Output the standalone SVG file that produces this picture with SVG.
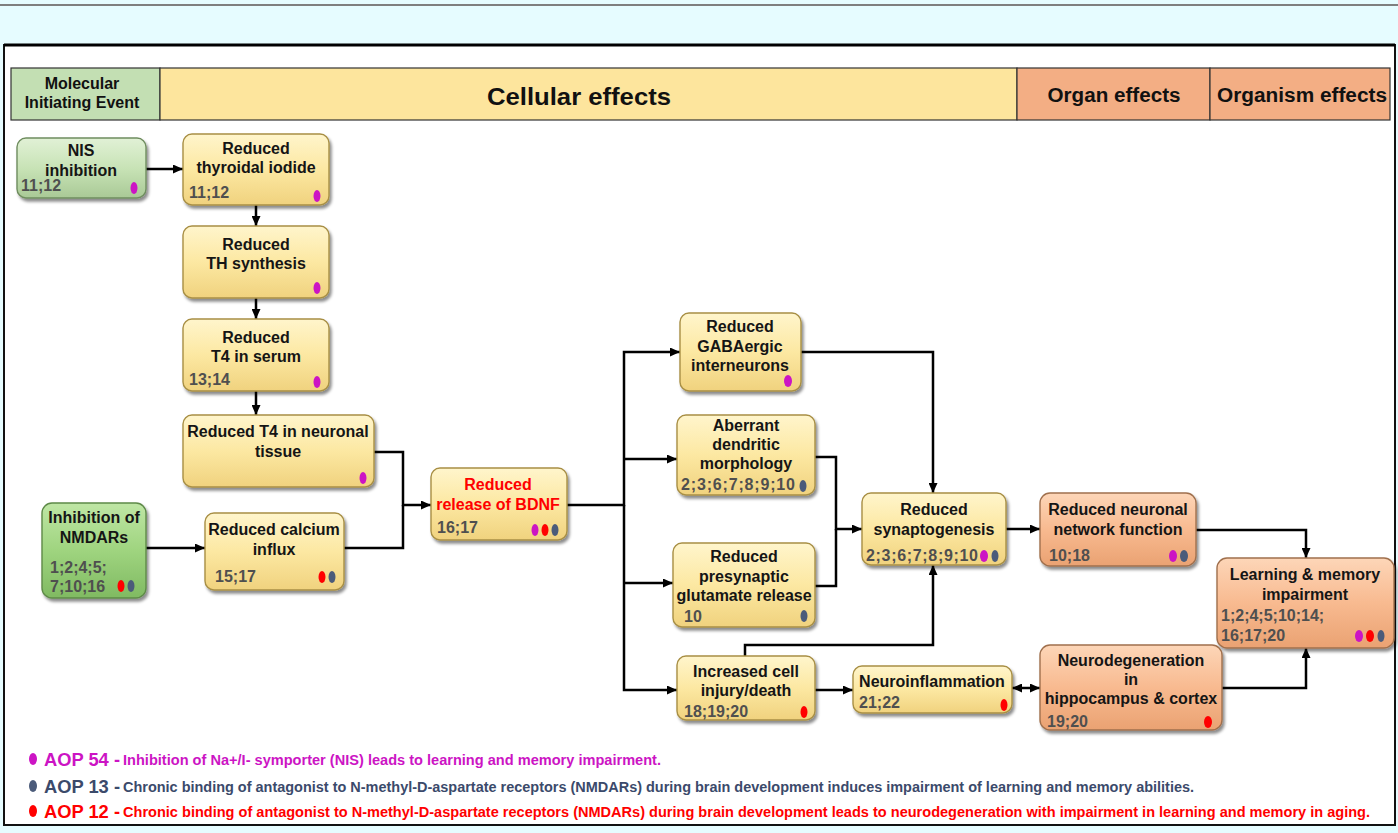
<svg xmlns="http://www.w3.org/2000/svg" width="1398" height="833" viewBox="0 0 1398 833">
  <defs>
    <style>
      .t { font-family: "Liberation Sans", Arial, sans-serif; font-weight: bold; font-size: 16px; fill: #151515; text-anchor: middle; }
      .tr { fill: #ff0000; }
      .n { font-family: "Liberation Sans", Arial, sans-serif; font-weight: bold; font-size: 16px; fill: #4f4f4f; }
      .h { font-family: "Liberation Sans", Arial, sans-serif; font-weight: bold; fill: #111111; text-anchor: middle; }
      .edge { fill: none; stroke: #000000; stroke-width: 2.5; }
      .yel { fill: url(#gYel); stroke: #a88f45; stroke-width: 1.4; filter: url(#shadow); }
      .org { fill: url(#gOrg); stroke: #a0704d; stroke-width: 1.4; filter: url(#shadow); }
      .grn { fill: url(#gGrn); stroke: #6f8d5f; stroke-width: 1.4; filter: url(#shadow); }
      .grn2 { fill: url(#gGrn2); stroke: #5e8a48; stroke-width: 1.4; filter: url(#shadow); }
      .dm { fill: #cc14c4; }
      .db { fill: #4b5b7a; }
      .dr { fill: #ff0000; }
      .lg { font-family: "Liberation Sans Narrow", "Liberation Sans", Arial, sans-serif; font-size: 14.5px; font-weight: bold; }
      .la { font-family: "Liberation Sans", Arial, sans-serif; font-size: 18px; font-weight: bold; }
    </style>
    <linearGradient id="gYel" x1="0" y1="0" x2="0" y2="1">
      <stop offset="0" stop-color="#fff5cc"/>
      <stop offset="0.5" stop-color="#fce8a2"/>
      <stop offset="1" stop-color="#f0d27e"/>
    </linearGradient>
    <linearGradient id="gOrg" x1="0" y1="0" x2="0" y2="1">
      <stop offset="0" stop-color="#fdd6b8"/>
      <stop offset="0.5" stop-color="#f8ba90"/>
      <stop offset="1" stop-color="#eaa272"/>
    </linearGradient>
    <linearGradient id="gGrn" x1="0" y1="0" x2="0" y2="1">
      <stop offset="0" stop-color="#e1f1d6"/>
      <stop offset="0.5" stop-color="#c8e3b6"/>
      <stop offset="1" stop-color="#a9c996"/>
    </linearGradient>
    <linearGradient id="gGrn2" x1="0" y1="0" x2="0" y2="1">
      <stop offset="0" stop-color="#bfe6a5"/>
      <stop offset="0.5" stop-color="#9fd47f"/>
      <stop offset="1" stop-color="#80ba62"/>
    </linearGradient>
    <filter id="shadow" x="-10%" y="-10%" width="125%" height="130%">
      <feDropShadow dx="2" dy="3" stdDeviation="1.6" flood-color="#000000" flood-opacity="0.45"/>
    </filter>
    <marker id="arr" markerUnits="userSpaceOnUse" markerWidth="10" markerHeight="9" refX="10" refY="4.5" orient="auto-start-reverse">
      <path d="M0,0 L10,4.5 L0,9 z" fill="#000000"/>
    </marker>
  </defs>

  <!-- page background and frame -->
  <rect x="0" y="0" width="1398" height="833" fill="#e6fcff"/>
  <line x1="0" y1="5" x2="1398" y2="5" stroke="#7f7f7f" stroke-width="2"/>
  <rect x="4" y="45" width="1391" height="780" fill="#ffffff" stroke="#111111" stroke-width="2"/>
  <line x1="4" y1="45" x2="1395" y2="45" stroke="#000000" stroke-width="3"/>

  <!-- level header -->
  <g id="header">
    <rect x="11" y="68" width="149" height="52" fill="#c3dfb3" stroke="#333333" stroke-width="1.2"/>
    <rect x="160" y="68" width="857" height="52" fill="#fde59d" stroke="#333333" stroke-width="1.2"/>
    <rect x="1017" y="68" width="193" height="52" fill="#f3ae84" stroke="#333333" stroke-width="1.2"/>
    <rect x="1210" y="68" width="180" height="52" fill="#f3ae84" stroke="#333333" stroke-width="1.2"/>
    <text class="h" x="82" y="89" font-size="16">Molecular</text>
    <text class="h" x="82" y="108" font-size="16">Initiating Event</text>
    <text class="h" x="579" y="105" font-size="24" textLength="184" lengthAdjust="spacingAndGlyphs">Cellular effects</text>
    <text class="h" x="1114" y="102" font-size="20" textLength="133" lengthAdjust="spacingAndGlyphs">Organ effects</text>
    <text class="h" x="1302" y="102" font-size="20" textLength="170" lengthAdjust="spacingAndGlyphs">Organism effects</text>
  </g>

  <!-- connectors -->
  <g id="connectors">
    <path class="edge" d="M146,169 H183" marker-end="url(#arr)"/>
    <path class="edge" d="M256,205 V226" marker-end="url(#arr)"/>
    <path class="edge" d="M256,298 V319" marker-end="url(#arr)"/>
    <path class="edge" d="M256,391 V415" marker-end="url(#arr)"/>
    <path class="edge" d="M374,452 H403 V505 H431" marker-end="url(#arr)"/>
    <path class="edge" d="M344,548 H403 V505"/>
    <path class="edge" d="M146,548 H205" marker-end="url(#arr)"/>
    <path class="edge" d="M567,505 H624 V352 H680" marker-end="url(#arr)"/>
    <path class="edge" d="M624,505 V690 H677" marker-end="url(#arr)"/>
    <path class="edge" d="M624,459 H677" marker-end="url(#arr)"/>
    <path class="edge" d="M624,583 H673" marker-end="url(#arr)"/>
    <path class="edge" d="M801,352 H933 V493" marker-end="url(#arr)"/>
    <path class="edge" d="M815,457 H836 V529 H862" marker-end="url(#arr)"/>
    <path class="edge" d="M815,586 H836 V529"/>
    <path class="edge" d="M745,656 V645 H933 V565" marker-end="url(#arr)"/>
    <path class="edge" d="M815,690 H853" marker-end="url(#arr)"/>
    <path class="edge" d="M1012,688 H1040" marker-start="url(#arr)" marker-end="url(#arr)"/>
    <path class="edge" d="M1006,529 H1040" marker-end="url(#arr)"/>
    <path class="edge" d="M1196,530 H1306 V558" marker-end="url(#arr)"/>
    <path class="edge" d="M1222,688 H1306 V648" marker-end="url(#arr)"/>
  </g>

  <!-- events -->
  <g id="nis-inhibition">
    <rect class="grn" x="17" y="138" width="129" height="60" rx="9"/>
    <text class="t" x="81" y="156">NIS</text>
    <text class="t" x="81" y="176">inhibition</text>
    <text class="n" x="21" y="191">11;12</text>
    <ellipse class="dm" cx="134" cy="188" rx="3.5" ry="6"/>
  </g>

  <g id="thyroidal-iodide">
    <rect class="yel" x="183" y="134" width="146" height="71" rx="9"/>
    <text class="t" x="256" y="154">Reduced</text>
    <text class="t" x="256" y="173">thyroidal iodide</text>
    <text class="n" x="189" y="198">11;12</text>
    <ellipse class="dm" cx="317" cy="196" rx="3.5" ry="6"/>
  </g>

  <g id="th-synthesis">
    <rect class="yel" x="183" y="226" width="146" height="72" rx="9"/>
    <text class="t" x="256" y="250">Reduced</text>
    <text class="t" x="256" y="269">TH synthesis</text>
    <ellipse class="dm" cx="317" cy="288" rx="3.5" ry="6"/>
  </g>

  <g id="t4-serum">
    <rect class="yel" x="183" y="319" width="146" height="72" rx="9"/>
    <text class="t" x="256" y="343">Reduced</text>
    <text class="t" x="256" y="362">T4 in serum</text>
    <text class="n" x="189" y="385">13;14</text>
    <ellipse class="dm" cx="317" cy="382" rx="3.5" ry="6"/>
  </g>

  <g id="t4-neuronal">
    <rect class="yel" x="183" y="415" width="191" height="72" rx="9"/>
    <text class="t" x="278" y="437">Reduced T4 in neuronal</text>
    <text class="t" x="278" y="457">tissue</text>
    <ellipse class="dm" cx="363" cy="478" rx="3.5" ry="6"/>
  </g>

  <g id="nmdar-inhibition">
    <rect class="grn2" x="42" y="503" width="104" height="95" rx="10"/>
    <text class="t" x="94" y="523">Inhibition of</text>
    <text class="t" x="94" y="543">NMDARs</text>
    <text class="n" x="50" y="573">1;2;4;5;</text>
    <text class="n" x="50" y="592">7;10;16</text>
    <ellipse class="dr" cx="121" cy="586" rx="3.5" ry="6"/>
    <ellipse class="db" cx="131" cy="586" rx="3.5" ry="6"/>
  </g>

  <g id="calcium-influx">
    <rect class="yel" x="205" y="513" width="139" height="77" rx="9"/>
    <text class="t" x="274" y="535">Reduced calcium</text>
    <text class="t" x="274" y="555">influx</text>
    <text class="n" x="215" y="582">15;17</text>
    <ellipse class="dr" cx="322" cy="577" rx="3.5" ry="6"/>
    <ellipse class="db" cx="332" cy="577" rx="3.5" ry="6"/>
  </g>

  <g id="bdnf-release">
    <rect class="yel" x="431" y="468" width="136" height="72" rx="9"/>
    <text class="t tr" x="498" y="490">Reduced</text>
    <text class="t tr" x="498" y="510">release of BDNF</text>
    <text class="n" x="437" y="533">16;17</text>
    <ellipse class="dm" cx="535" cy="530" rx="3.5" ry="6"/>
    <ellipse class="dr" cx="545" cy="530" rx="3.5" ry="6"/>
    <ellipse class="db" cx="555" cy="530" rx="3.5" ry="6"/>
  </g>

  <g id="gabaergic-interneurons">
    <rect class="yel" x="680" y="313" width="121" height="78" rx="9"/>
    <text class="t" x="740" y="332">Reduced</text>
    <text class="t" x="740" y="352">GABAergic</text>
    <text class="t" x="740" y="371">interneurons</text>
    <ellipse class="dm" cx="788" cy="381" rx="4" ry="6"/>
  </g>

  <g id="dendritic-morphology">
    <rect class="yel" x="677" y="415" width="138" height="80" rx="9"/>
    <text class="t" x="746" y="431">Aberrant</text>
    <text class="t" x="746" y="450">dendritic</text>
    <text class="t" x="746" y="469">morphology</text>
    <text class="n" x="681" y="490" textLength="114" lengthAdjust="spacing">2;3;6;7;8;9;10</text>
    <ellipse class="db" cx="803" cy="486" rx="3.5" ry="6"/>
  </g>

  <g id="glutamate-release">
    <rect class="yel" x="673" y="543" width="142" height="84" rx="9"/>
    <text class="t" x="744" y="562">Reduced</text>
    <text class="t" x="744" y="582">presynaptic</text>
    <text class="t" x="744" y="601">glutamate release</text>
    <text class="n" x="684" y="622">10</text>
    <ellipse class="db" cx="804" cy="616" rx="3.5" ry="6"/>
  </g>

  <g id="cell-injury">
    <rect class="yel" x="677" y="656" width="138" height="64" rx="9"/>
    <text class="t" x="746" y="677">Increased cell</text>
    <text class="t" x="746" y="696">injury/death</text>
    <text class="n" x="684" y="717">18;19;20</text>
    <ellipse class="dr" cx="804" cy="712" rx="3.5" ry="6"/>
  </g>

  <g id="synaptogenesis">
    <rect class="yel" x="862" y="493" width="144" height="72" rx="9"/>
    <text class="t" x="934" y="515">Reduced</text>
    <text class="t" x="934" y="535">synaptogenesis</text>
    <text class="n" x="866" y="561" textLength="112" lengthAdjust="spacing">2;3;6;7;8;9;10</text>
    <ellipse class="dm" cx="984" cy="556" rx="4" ry="6"/>
    <ellipse class="db" cx="995" cy="556" rx="3.5" ry="6"/>
  </g>

  <g id="neuroinflammation">
    <rect class="yel" x="853" y="666" width="159" height="47" rx="9"/>
    <text class="t" x="932" y="687">Neuroinflammation</text>
    <text class="n" x="859" y="708">21;22</text>
    <ellipse class="dr" cx="1004" cy="705" rx="3.5" ry="6"/>
  </g>

  <g id="network-function">
    <rect class="org" x="1040" y="493" width="156" height="73" rx="10"/>
    <text class="t" x="1118" y="515">Reduced neuronal</text>
    <text class="t" x="1118" y="535">network function</text>
    <text class="n" x="1049" y="561">10;18</text>
    <ellipse class="dm" cx="1173" cy="556" rx="4" ry="6"/>
    <ellipse class="db" cx="1184" cy="556" rx="4" ry="6"/>
  </g>

  <g id="learning-memory">
    <rect class="org" x="1217" y="558" width="177" height="90" rx="10"/>
    <text class="t" x="1305" y="580">Learning &amp; memory</text>
    <text class="t" x="1305" y="600">impairment</text>
    <text class="n" x="1221" y="621">1;2;4;5;10;14;</text>
    <text class="n" x="1221" y="641">16;17;20</text>
    <ellipse class="dm" cx="1359" cy="636" rx="4" ry="6"/>
    <ellipse class="dr" cx="1370" cy="636" rx="4" ry="6"/>
    <ellipse class="db" cx="1381" cy="636" rx="3.5" ry="6"/>
  </g>

  <g id="neurodegeneration">
    <rect class="org" x="1040" y="645" width="182" height="85" rx="10"/>
    <text class="t" x="1131" y="666">Neurodegeneration</text>
    <text class="t" x="1131" y="685">in</text>
    <text class="t" x="1131" y="704">hippocampus &amp; cortex</text>
    <text class="n" x="1047" y="727">19;20</text>
    <ellipse class="dr" cx="1208" cy="722" rx="4" ry="6"/>
  </g>

  <!-- legend -->
  <g id="legend">
    <ellipse class="dm" cx="33" cy="759" rx="4" ry="6"/>
    <text class="la" x="44" y="766" fill="#cc14c4" textLength="76" lengthAdjust="spacingAndGlyphs">AOP 54 -</text>
    <text class="lg" x="123" y="765" fill="#cc14c4" textLength="538" lengthAdjust="spacingAndGlyphs">Inhibition of Na+/I- symporter  (NIS) leads to learning and memory impairment.</text>

    <ellipse class="db" cx="33" cy="786" rx="4" ry="6"/>
    <text class="la" x="44" y="793" fill="#3b4a6b" textLength="76" lengthAdjust="spacingAndGlyphs">AOP 13 -</text>
    <text class="lg" x="123" y="792" fill="#3b4a6b" textLength="1071" lengthAdjust="spacingAndGlyphs">Chronic binding of antagonist to N-methyl-D-aspartate  receptors (NMDARs)  during brain development induces  impairment of learning and memory abilities.</text>

    <ellipse class="dr" cx="33" cy="811" rx="4" ry="6"/>
    <text class="la" x="44" y="818" fill="#ff0000" textLength="76" lengthAdjust="spacingAndGlyphs">AOP 12 -</text>
    <text class="lg" x="123" y="817" fill="#ff0000" textLength="1247" lengthAdjust="spacingAndGlyphs">Chronic binding of antagonist to N-methyl-D-aspartate  receptors (NMDARs)  during brain development leads to  neurodegeneration with impairment in learning and memory in aging.</text>
  </g>
</svg>
